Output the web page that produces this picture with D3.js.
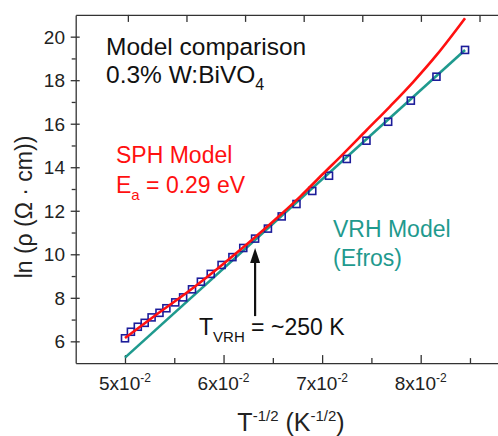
<!DOCTYPE html>
<html>
<head>
<meta charset="utf-8">
<script src="https://cdn.jsdelivr.net/npm/d3@7"></script>
<style>
  body { margin: 0; background: #fff; }
  text { font-family: "Liberation Sans", Arial, sans-serif; }
</style>
</head>
<body>
<div id="chart"></div>
<script>
// measured data: x = T^-1/2 (K^-1/2), y = ln(rho)
var dataX = [0.0500, 0.0506, 0.0513, 0.0520, 0.0527, 0.0535, 0.0542, 0.0551, 0.0559, 0.0568,
  0.0577, 0.0587, 0.0598, 0.0609, 0.0620, 0.0632, 0.0645, 0.0659, 0.0674, 0.0690,
  0.0707, 0.0725, 0.0745, 0.0767, 0.0790, 0.0816, 0.0845];
var dataY = [6.14, 6.44, 6.67, 6.85, 7.10, 7.31, 7.52, 7.79, 8.02, 8.39,
  8.74, 9.10, 9.51, 9.87, 10.29, 10.72, 11.18, 11.74, 12.31, 12.91,
  13.61, 14.38, 15.22, 16.09, 17.06, 18.16, 19.39];

// SPH model curve (red)
var sphX = [0.0500, 0.0534, 0.0568, 0.0600, 0.0632, 0.0659, 0.0678, 0.0701, 0.0722, 0.0745, 0.0769, 0.0793, 0.0816, 0.0845];
var sphY = [6.15, 7.30, 8.42, 9.57, 10.78, 11.86, 12.66, 13.70, 14.64, 15.70, 16.80, 17.95, 19.15, 20.85];

// VRH (Efros) fit line (teal)
var vrhX = [0.0500, 0.0845];
var vrhY = [5.25, 19.39];

var xTicks = [0.05, 0.06, 0.07, 0.08];
var xTickMant = ["5", "6", "7", "8"];
var xMinor = [0.055, 0.065, 0.075, 0.085];
var yTicks = [6, 8, 10, 12, 14, 16, 18, 20];
var yMinor = [7, 9, 11, 13, 15, 17, 19];
var topTicks = [0, 1, 2, 3, 4, 5, 6];

var tVrhX = 0.0632;   // arrow position
var arrowY = [7.16, 10.29];

var width = 498, height = 436;
var red = "#ff1010", teal = "#1f9a8e", navy = "#1c1c9a";

var svg = d3.select("#chart").append("svg").attr("width", width).attr("height", height);

var x = d3.scaleLinear().domain([0.045, 0.089]).range([75.7, 509.4]);
var y = d3.scaleLinear().domain([5, 21]).range([363.1, 14.9]);
var xTop = d3.scaleLinear().domain([-0.89, 6.51]).range([75.7, 509.4]);

// axes
svg.append("g").attr("transform", "translate(0," + y(5) + ")")
  .call(d3.axisBottom(x).tickValues(xTicks).tickSize(-8).tickSizeOuter(0).tickFormat(""));
svg.append("g").attr("transform", "translate(0," + y(5) + ")")
  .call(d3.axisBottom(x).tickValues(xMinor).tickSize(-5).tickSizeOuter(0).tickFormat(""))
  .select(".domain").remove();
svg.append("g").attr("transform", "translate(0," + y(21) + ")")
  .call(d3.axisTop(xTop).tickValues(topTicks).tickSize(-7).tickSizeOuter(0).tickFormat(""));
var gL = svg.append("g").attr("transform", "translate(" + x(0.045) + ",0)")
  .call(d3.axisLeft(y).tickValues(yTicks).tickSize(5).tickSizeOuter(0).tickFormat(""));
gL.selectAll(".tick line").attr("x1", 4);
svg.append("g").attr("transform", "translate(" + x(0.045) + ",0)")
  .call(d3.axisLeft(y).tickValues(yMinor).tickSize(4).tickSizeOuter(0).tickFormat(""))
  .select(".domain").remove();

svg.selectAll(".domain, .tick line").attr("stroke", "#333").attr("stroke-width", 1.3);

// y tick labels
svg.append("g").selectAll("text").data(yTicks).enter().append("text")
  .attr("x", 65).attr("y", function(d) { return y(d); }).attr("dy", "0.36em")
  .attr("text-anchor", "end").attr("font-size", 19).attr("fill", "#222")
  .text(function(d) { return d; });

// x tick labels
var xl = svg.append("g").selectAll("text").data(xTicks).enter().append("text")
  .attr("x", function(d) { return x(d); }).attr("y", 390)
  .attr("text-anchor", "middle").attr("font-size", 19).attr("fill", "#222");
xl.append("tspan").text(function(d, i) { return xTickMant[i] + "x10"; });
xl.append("tspan").attr("dy", -8).attr("font-size", 12).text("-2");

// axis titles
var xt = svg.append("text").attr("x", 291).attr("y", 431).attr("text-anchor", "middle")
  .attr("font-size", 25).attr("fill", "#222");
xt.append("tspan").text("T");
xt.append("tspan").attr("dy", -10).attr("font-size", 15).text("-1/2");
xt.append("tspan").attr("dy", 10).text(" (K");
xt.append("tspan").attr("dy", -10).attr("font-size", 15).text("-1/2");
xt.append("tspan").attr("dy", 10).text(")");

svg.append("text").attr("transform", "translate(32,207) rotate(-90)")
  .attr("text-anchor", "middle").attr("font-size", 23).attr("fill", "#222")
  .text("ln (ρ (Ω · cm))");

// lines and points
var line = d3.line().x(function(d) { return x(d[0]); }).y(function(d) { return y(d[1]); });

svg.append("path").datum(d3.zip(vrhX, vrhY)).attr("d", line)
  .attr("fill", "none").attr("stroke", teal).attr("stroke-width", 2.6);

svg.append("g").selectAll("rect").data(d3.zip(dataX, dataY)).enter().append("rect")
  .attr("x", function(d) { return x(d[0]) - 3.5; })
  .attr("y", function(d) { return y(d[1]) - 3.5; })
  .attr("width", 7).attr("height", 7)
  .attr("fill", "none").attr("stroke", navy).attr("stroke-width", 1.6);

svg.append("path").datum(d3.zip(sphX, sphY)).attr("d", line.curve(d3.curveMonotoneX))
  .attr("fill", "none").attr("stroke", red).attr("stroke-width", 2.6);

// arrow at T_VRH
svg.append("line").attr("x1", x(tVrhX)).attr("x2", x(tVrhX))
  .attr("y1", y(arrowY[0])).attr("y2", y(arrowY[1]) + 12)
  .attr("stroke", "#111").attr("stroke-width", 2.2);
svg.append("path")
  .attr("d", "M" + x(tVrhX) + "," + y(arrowY[1]) + " l-5,15 l10,0 z")
  .attr("fill", "#111");

// annotations
svg.append("text").attr("x", 106).attr("y", 55).attr("font-size", 24.5).attr("fill", "#111")
  .text("Model comparison");
var bv = svg.append("text").attr("x", 106).attr("y", 83).attr("font-size", 24.5).attr("fill", "#111");
bv.append("tspan").text("0.3% W:BiVO");
bv.append("tspan").attr("dy", 7).attr("font-size", 16).text("4");

svg.append("text").attr("x", 116).attr("y", 163).attr("font-size", 23).attr("fill", red)
  .text("SPH Model");
var ea = svg.append("text").attr("x", 116).attr("y", 193).attr("font-size", 23).attr("fill", red);
ea.append("tspan").text("E");
ea.append("tspan").attr("dy", 7).attr("font-size", 15).text("a");
ea.append("tspan").attr("dy", -7).text(" = 0.29 eV");

svg.append("text").attr("x", 333).attr("y", 237).attr("font-size", 23).attr("fill", teal)
  .text("VRH Model");
svg.append("text").attr("x", 333).attr("y", 266).attr("font-size", 23).attr("fill", teal)
  .text("(Efros)");

var tv = svg.append("text").attr("x", 199).attr("y", 335).attr("font-size", 23).attr("fill", "#111");
tv.append("tspan").text("T");
tv.append("tspan").attr("dy", 7).attr("font-size", 15).text("VRH");
tv.append("tspan").attr("dy", -7).text(" = ~250 K");
</script>
</body>
</html>
